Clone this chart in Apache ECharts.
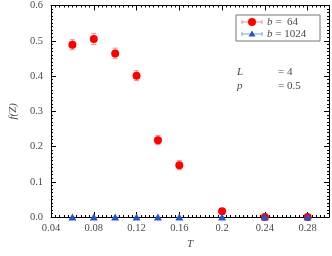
<!DOCTYPE html>
<html><head><meta charset="utf-8">
<script src="https://cdn.jsdelivr.net/npm/echarts@6/dist/echarts.min.js"></script>
<style>html,body{margin:0;padding:0;background:#fff}#c{width:332px;height:256px}</style>
</head><body><div id="c"></div>
<script>
const T64 = [0.06, 0.08, 0.10, 0.12, 0.14, 0.16, 0.20, 0.24, 0.28];
const F64 = [0.489, 0.505, 0.464, 0.401, 0.218, 0.147, 0.016, 0.0, 0.0];
const E64 = [0.014, 0.016, 0.015, 0.014, 0.013, 0.013, 0.003, 0.0, 0.0];
const T1024 = [0.06, 0.08, 0.10, 0.12, 0.14, 0.16, 0.20, 0.24, 0.28];
const F1024 = [0, 0, 0, 0, 0, 0, 0, 0, 0];
const xTicks = [0.04, 0.08, 0.12, 0.16, 0.2, 0.24, 0.28];

const FONT = 'Liberation Serif';
const TXT = '#4a4a4a';
const chart = echarts.init(document.getElementById('c'), null, {renderer: 'canvas'});

function fmtX(v) {
  const r = Math.round(v * 100) / 100;
  if (Math.abs(r - 0.2) < 1e-9) return '0.2';
  return r.toFixed(2);
}

const errData = T64.map((t, i) => [t, F64[i] - E64[i], F64[i] + E64[i]]);

const axisCommon = {
  axisLine: {show: true, onZero: false, lineStyle: {color: '#000', width: 1}},
  splitLine: {show: false}
};

chart.setOption({
  animation: false,
  grid: {left: 51, right: 1, top: 5, bottom: 39},
  xAxis: [
    Object.assign({
      type: 'value', min: 0.04, max: 0.3, interval: 0.04,
      axisTick: {show: true, inside: true, length: 5, lineStyle: {color: '#000'}},
      minorTick: {show: true, splitNumber: 10, length: 2, lineStyle: {color: '#000'}},
      axisLabel: {color: TXT, fontFamily: FONT, fontSize: 10.5, margin: 6,
        formatter: v => (v > 0.29 ? '' : fmtX(v))},
      name: 'T', nameLocation: 'middle', nameGap: 20,
      nameTextStyle: {color: TXT, fontFamily: FONT, fontStyle: 'italic', fontSize: 11}
    }, axisCommon),
    Object.assign({
      type: 'value', min: 0.04, max: 0.3, interval: 0.04, position: 'top',
      axisTick: {show: true, inside: true, length: 5, lineStyle: {color: '#000'}},
      minorTick: {show: true, splitNumber: 10, length: 2, lineStyle: {color: '#000'}},
      axisLabel: {show: false}
    }, axisCommon)
  ],
  yAxis: [
    Object.assign({
      type: 'value', min: 0, max: 0.6, interval: 0.1,
      axisTick: {show: true, inside: true, length: 5, lineStyle: {color: '#000'}},
      minorTick: {show: true, splitNumber: 10, length: 2, lineStyle: {color: '#000'}},
      axisLabel: {color: TXT, fontFamily: FONT, fontSize: 10.5, margin: 8,
        formatter: v => v.toFixed(1)},
      name: 'f(Z)', nameLocation: 'middle', nameGap: 29,
      nameTextStyle: {color: TXT, fontFamily: FONT, fontStyle: 'italic', fontSize: 11}
    }, axisCommon),
    Object.assign({
      type: 'value', min: 0, max: 0.6, interval: 0.1, position: 'right',
      axisTick: {show: true, inside: true, length: 5, lineStyle: {color: '#000'}},
      minorTick: {show: true, splitNumber: 10, length: 2, lineStyle: {color: '#000'}},
      axisLabel: {show: false}
    }, axisCommon)
  ],
  series: [
    {
      type: 'custom', xAxisIndex: 0, yAxisIndex: 0, z: 2,
      data: errData,
      renderItem: function (params, api) {
        const x = api.value(0);
        const lo = api.coord([x, api.value(1)]);
        const hi = api.coord([x, api.value(2)]);
        if (Math.abs(hi[1] - lo[1]) < 0.5) return null;
        const st = {stroke: '#f58a8a', lineWidth: 1};
        return {type: 'group', children: [
          {type: 'line', shape: {x1: lo[0], y1: lo[1], x2: hi[0], y2: hi[1]}, style: st},
          {type: 'line', shape: {x1: lo[0] - 2.5, y1: lo[1], x2: lo[0] + 2.5, y2: lo[1]}, style: st},
          {type: 'line', shape: {x1: hi[0] - 2.5, y1: hi[1], x2: hi[0] + 2.5, y2: hi[1]}, style: st}
        ]};
      }
    },
    {
      name: 'b = 64', type: 'scatter', z: 3,
      data: T64.map((t, i) => [t, F64[i]]),
      symbol: 'circle', symbolSize: 8,
      itemStyle: {color: '#ff0000', opacity: 1}
    },
    {
      name: 'b = 1024', type: 'scatter', z: 4,
      data: T1024.map((t, i) => [t, F1024[i]]),
      symbol: 'triangle', symbolSize: [8, 7],
      itemStyle: {color: '#2255cc', opacity: 1}
    }
  ],
  graphic: [
    {type: 'rect', shape: {x: 236, y: 15, width: 84, height: 26},
     style: {fill: '#fff', stroke: '#777', lineWidth: 1}, z: 100},
    {type: 'line', shape: {x1: 242, y1: 22, x2: 262, y2: 22}, style: {stroke: '#f58a8a', lineWidth: 1}, z: 101},
    {type: 'line', shape: {x1: 242, y1: 20, x2: 242, y2: 24}, style: {stroke: '#f58a8a', lineWidth: 1}, z: 101},
    {type: 'line', shape: {x1: 262, y1: 20, x2: 262, y2: 24}, style: {stroke: '#f58a8a', lineWidth: 1}, z: 101},
    {type: 'circle', shape: {cx: 252, cy: 22, r: 4}, style: {fill: '#ff0000'}, z: 102},
    {type: 'text', x: 267, y: 22, style: {text: '{i|b} =  64', rich: {i: {fontStyle: 'italic', fontFamily: FONT, fontSize: 11, fill: TXT}}, fontFamily: FONT, fontSize: 11, fill: TXT, verticalAlign: 'middle'}, z: 102},
    {type: 'line', shape: {x1: 242, y1: 34, x2: 262, y2: 34}, style: {stroke: '#7fa0e8', lineWidth: 1}, z: 101},
    {type: 'line', shape: {x1: 242, y1: 32, x2: 242, y2: 36}, style: {stroke: '#7fa0e8', lineWidth: 1}, z: 101},
    {type: 'line', shape: {x1: 262, y1: 32, x2: 262, y2: 36}, style: {stroke: '#7fa0e8', lineWidth: 1}, z: 101},
    {type: 'polygon', shape: {points: [[252, 30.5], [255.5, 36.5], [248.5, 36.5]]}, style: {fill: '#2255cc'}, z: 102},
    {type: 'text', x: 267, y: 34, style: {text: '{i|b} = 1024', rich: {i: {fontStyle: 'italic', fontFamily: FONT, fontSize: 11, fill: TXT}}, fontFamily: FONT, fontSize: 11, fill: TXT, verticalAlign: 'middle'}, z: 102},
    {type: 'text', x: 237, y: 72, style: {text: 'L', fontFamily: FONT, fontStyle: 'italic', fontSize: 11, fill: TXT, verticalAlign: 'middle'}, z: 102},
    {type: 'text', x: 278, y: 72, style: {text: '= 4', fontFamily: FONT, fontSize: 11, fill: TXT, verticalAlign: 'middle'}, z: 102},
    {type: 'text', x: 237, y: 86, style: {text: 'p', fontFamily: FONT, fontStyle: 'italic', fontSize: 11, fill: TXT, verticalAlign: 'middle'}, z: 102},
    {type: 'text', x: 278, y: 86, style: {text: '= 0.5', fontFamily: FONT, fontSize: 11, fill: TXT, verticalAlign: 'middle'}, z: 102}
  ]
});
</script></body></html>
